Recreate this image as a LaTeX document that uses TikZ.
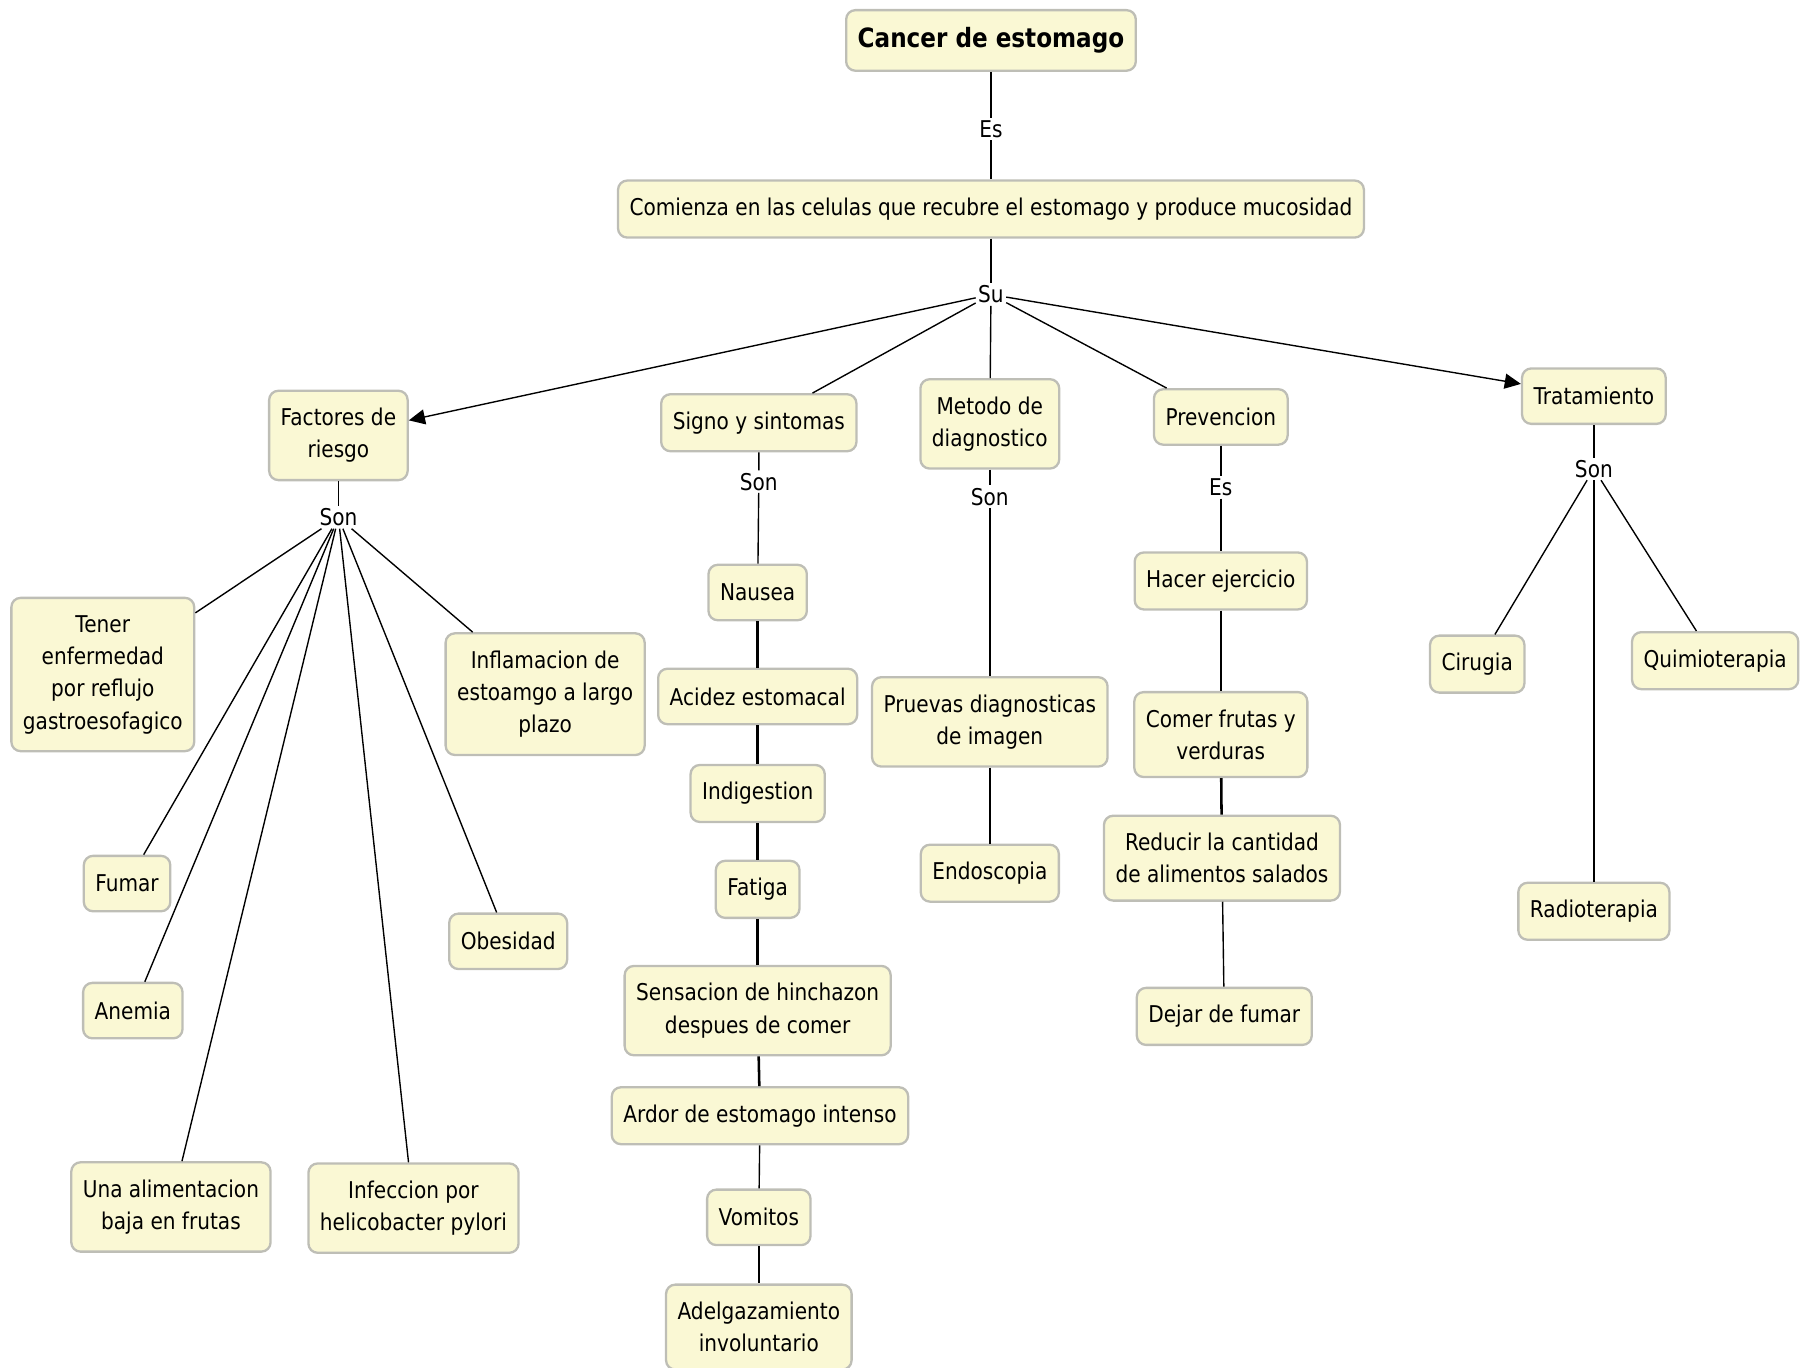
\documentclass[tikz,border=0pt]{standalone}
\usepackage{fontspec}
\setmainfont{DejaVu Sans}[FakeStretch=0.87]
\usetikzlibrary{arrows.meta}
\definecolor{fondocaja}{RGB}{250,248,212}
\definecolor{bordecaja}{RGB}{190,190,182}
\tikzset{
  concepto/.style={draw=bordecaja, fill=fondocaja, line width=2pt, rounded corners=8pt,
    align=center, inner xsep=10pt, inner ysep=15pt, minimum height=48pt,
    font=\fontsize{20}{28}\selectfont},
  enlace/.style={inner sep=2pt, font=\fontsize{20}{24}\selectfont},
  linea/.style={line width=1.2pt},
  grueso/.style={line width=2.2pt},
  flecha/.style={linea, -{Triangle[length=14pt,width=13pt]}},
}
\begin{document}
\begin{tikzpicture}[x=1pt,y=-1pt]
  \useasboundingbox (0,0) rectangle (1568,1184);

  % raiz
  \node[concepto, font=\fontsize{23}{28}\bfseries] (cancer) at (858,35) {Cancer de estomago};
  \node[enlace] (es1) at (858,112) {Es};
  \node[concepto] (comienza) at (858,181) {Comienza en las celulas que recubre el estomago y produce mucosidad};
  \node[enlace] (su) at (858,255) {Su};

  % ramas
  \node[concepto] (factores) at (293,377) {Factores de\\riesgo};
  \node[concepto] (signo) at (657,366) {Signo y sintomas};
  \node[concepto] (metodo) at (857,367) {Metodo de\\diagnostico};
  \node[concepto] (prevencion) at (1057,361) {Prevencion};
  \node[concepto] (tratamiento) at (1380,343) {Tratamiento};

  % factores de riesgo
  \node[enlace] (son1) at (293,448) {Son};
  \node[concepto] (tener) at (89,584) {Tener\\enfermedad\\por reflujo\\gastroesofagico};
  \node[concepto] (inflamacion) at (472,601) {Inflamacion de\\estoamgo a largo\\plazo};
  \node[concepto] (fumar) at (110,765) {Fumar};
  \node[concepto] (anemia) at (115,875) {Anemia};
  \node[concepto] (obesidad) at (440,815) {Obesidad};
  \node[concepto] (alimentacion) at (148,1045) {Una alimentacion\\baja en frutas};
  \node[concepto] (infeccion) at (358,1046) {Infeccion por\\helicobacter pylori};

  % signos y sintomas
  \node[enlace] (son2) at (657,417) {Son};
  \node[concepto] (nausea) at (656,513) {Nausea};
  \node[concepto] (acidez) at (656,603) {Acidez estomacal};
  \node[concepto] (indigestion) at (656,687) {Indigestion};
  \node[concepto] (fatiga) at (656,770) {Fatiga};
  \node[concepto] (sensacion) at (656,875) {Sensacion de hinchazon\\despues de comer};
  \node[concepto] (ardor) at (658,966) {Ardor de estomago intenso};
  \node[concepto] (vomitos) at (657,1054) {Vomitos};
  \node[concepto] (adelgazamiento) at (657,1149) {Adelgazamiento\\involuntario};

  % diagnostico
  \node[enlace] (son3) at (857,430) {Son};
  \node[concepto] (pruevas) at (857,625) {Pruevas diagnosticas\\de imagen};
  \node[concepto] (endoscopia) at (857,756) {Endoscopia};

  % prevencion
  \node[enlace] (es2) at (1057,422) {Es};
  \node[concepto] (ejercicio) at (1057,503) {Hacer ejercicio};
  \node[concepto] (frutas) at (1057,636) {Comer frutas y\\verduras};
  \node[concepto] (reducir) at (1058,743) {Reducir la cantidad\\de alimentos salados};
  \node[concepto] (dejar) at (1060,880) {Dejar de fumar};

  % tratamiento
  \node[enlace] (son4) at (1380,406) {Son};
  \node[concepto] (cirugia) at (1279,575) {Cirugia};
  \node[concepto] (quimio) at (1485,572) {Quimioterapia};
  \node[concepto] (radio) at (1380,789) {Radioterapia};

  % conectores
  \draw[linea] (cancer) -- (es1) -- (comienza) -- (su);
  \draw[flecha] (su) -- (factores);
  \draw[flecha] (su) -- (tratamiento);
  \foreach \x in {signo,metodo,prevencion}
    \draw[linea] (su) -- (\x);

  \draw[linea] (factores) -- (son1);
  \foreach \x in {tener,inflamacion,fumar,anemia,obesidad,alimentacion,infeccion}
    \draw[linea] (son1) -- (\x);

  \draw[linea] (signo) -- (son2) -- (nausea);
  \draw[grueso] (nausea) -- (acidez);
  \draw[grueso] (acidez) -- (indigestion);
  \draw[grueso] (indigestion) -- (fatiga);
  \draw[grueso] (fatiga) -- (sensacion);
  \draw[grueso] (sensacion) -- (ardor);
  \draw[linea] (ardor) -- (vomitos);
  \draw[linea] (vomitos) -- (adelgazamiento);

  \draw[linea] (metodo) -- (son3) -- (pruevas) -- (endoscopia);

  \draw[linea] (prevencion) -- (es2) -- (ejercicio);
  \draw[grueso] (ejercicio) -- (frutas);
  \draw[grueso] (frutas) -- (reducir);
  \draw[linea] (reducir) -- (dejar);

  \draw[linea] (tratamiento) -- (son4);
  \foreach \x in {cirugia,quimio,radio}
    \draw[linea] (son4) -- (\x);
\end{tikzpicture}
\end{document}
